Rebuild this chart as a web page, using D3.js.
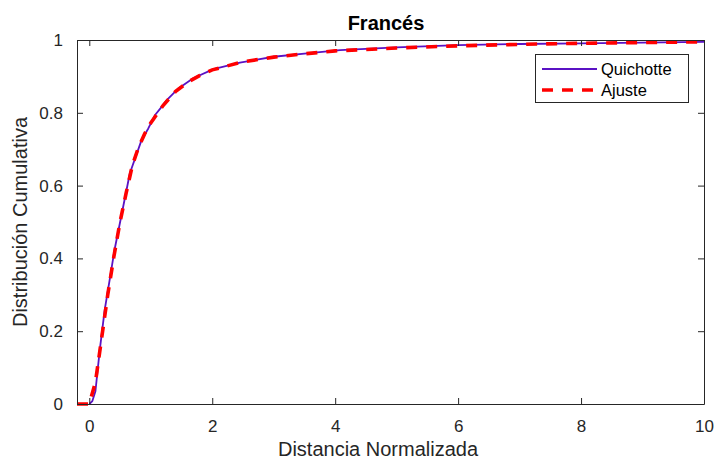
<!DOCTYPE html>
<html>
<head>
<meta charset="utf-8">
<script src="https://cdn.jsdelivr.net/npm/d3@7"></script>
<style>
  html, body { margin: 0; padding: 0; background: #fff; }
  svg { display: block; font-family: "Liberation Sans", Arial, Helvetica, sans-serif; }
</style>
</head>
<body>
<svg id="chart" width="715" height="459"></svg>
<script>
// Empirical cumulative distribution (Quichotte)
const obsX = [0, 0.05, 0.1, 0.17, 0.25, 0.34, 0.41, 0.53, 0.66, 0.85, 0.96, 1.07, 1.18, 1.26, 1.45, 1.69, 2.02, 2.45, 3.0, 3.54, 4.08, 5.0, 6.0, 7.0, 8.0, 9.0, 10.0];
const obsY = [0, 0.008, 0.035, 0.148, 0.258, 0.35, 0.423, 0.524, 0.634, 0.725, 0.757, 0.794, 0.817, 0.835, 0.867, 0.895, 0.92, 0.938, 0.954, 0.963, 0.972, 0.98, 0.986, 0.989, 0.991, 0.993, 0.995];

// Fitted curve (Ajuste)
const fitX = [-0.2, 0, 0.1, 0.2, 0.3, 0.4, 0.5, 0.6, 0.7, 0.8, 0.9, 1.0, 1.2, 1.4, 1.6, 1.8, 2.0, 2.5, 3.0, 3.5, 4.0, 5.0, 6.0, 7.0, 8.0, 9.0, 10.0];
const fitY = [0, 0, 0.06, 0.18, 0.3, 0.405, 0.5, 0.58, 0.655, 0.705, 0.742, 0.772, 0.82, 0.858, 0.884, 0.903, 0.918, 0.94, 0.953, 0.962, 0.97, 0.978, 0.984, 0.988, 0.991, 0.993, 0.995];

const xTicks = [0, 2, 4, 6, 8, 10];
const yTicks = [0, 0.2, 0.4, 0.6, 0.8, 1];
const seriesNames = ["Quichotte", "Ajuste"];
const titleText = "Francés";
const xLabelText = "Distancia Normalizada";
const yLabelText = "Distribución Cumulativa";

const svg = d3.select("#chart");
const L = 77, R = 704, T = 40, B = 404;
const axisColor = "#262626";

const x = d3.scaleLinear().domain([-0.2, 10]).range([L, R]);
const y = d3.scaleLinear().domain([0, 1]).range([B, T]);

svg.append("defs").append("clipPath").attr("id", "plotClip")
  .append("rect").attr("x", L).attr("y", T - 3).attr("width", R - L + 2).attr("height", B - T + 6);

// Curves
const lineGen = d3.line().x(d => x(d[0])).y(d => y(d[1]));
const plot = svg.append("g").attr("clip-path", "url(#plotClip)");

plot.append("path")
  .datum(obsX.map((v, i) => [v, obsY[i]]))
  .attr("fill", "none").attr("stroke", "#5a12c4").attr("stroke-width", 1.8)
  .attr("stroke-linejoin", "round")
  .attr("d", lineGen);

plot.append("path")
  .datum(fitX.map((v, i) => [v, fitY[i]]))
  .attr("fill", "none").attr("stroke", "#ff0000").attr("stroke-width", 3.6)
  .attr("stroke-dasharray", "11,9")
  .attr("d", lineGen);

// Axes (box with inward ticks on all sides)
const axes = svg.append("g");
const tickLen = 6;
const tickSize = 17;

const xAxisB = d3.axisBottom(x).tickValues(xTicks).tickFormat(d3.format("d")).tickSizeInner(-tickLen).tickSizeOuter(0).tickPadding(tickLen + 10);
const xAxisT = d3.axisTop(x).tickValues(xTicks).tickFormat("").tickSizeInner(-tickLen).tickSizeOuter(0);
const yAxisL = d3.axisLeft(y).tickValues(yTicks).tickFormat(d => d3.format("~g")(d)).tickSizeInner(-tickLen).tickSizeOuter(0).tickPadding(tickLen + 8);
const yAxisR = d3.axisRight(y).tickValues(yTicks).tickFormat("").tickSizeInner(-tickLen).tickSizeOuter(0);

function styleAxis(g) {
  g.select(".domain").attr("stroke", axisColor);
  g.selectAll(".tick line").attr("stroke", axisColor);
  g.selectAll(".tick text").attr("fill", axisColor).style("font-size", tickSize + "px")
    .style("font-family", '"Liberation Sans", Arial, sans-serif');
}

axes.append("g").attr("transform", `translate(0,${B})`).call(xAxisB).call(styleAxis);
axes.append("g").attr("transform", `translate(0,${T})`).call(xAxisT).call(styleAxis);
axes.append("g").attr("transform", `translate(${L},0)`).call(yAxisL).call(styleAxis);
axes.append("g").attr("transform", `translate(${R},0)`).call(yAxisR).call(styleAxis);

// Title and axis labels
svg.append("text").attr("x", 386).attr("y", 30).attr("text-anchor", "middle")
  .style("font-size", "20px").style("font-weight", "bold").attr("fill", "#000").text(titleText);

svg.append("text").attr("x", 378).attr("y", 456).attr("text-anchor", "middle")
  .style("font-size", "20px").attr("fill", axisColor).text(xLabelText);

svg.append("text").attr("transform", `translate(27,${(T + B) / 2}) rotate(-90)`).attr("text-anchor", "middle")
  .style("font-size", "20px").attr("fill", axisColor).text(yLabelText);

// Legend
const lg = svg.append("g");
const lgX = 535, lgY = 54, lgW = 153, lgH = 48;
lg.append("rect").attr("x", lgX + 0.5).attr("y", lgY + 0.5).attr("width", lgW).attr("height", lgH)
  .attr("fill", "#fff").attr("stroke", axisColor).attr("stroke-width", 1);
const legendStyles = [
  { color: "#5a12c4", width: 1.8, dash: null },
  { color: "#ff0000", width: 3.6, dash: "11,9" }
];
seriesNames.forEach((name, i) => {
  const cy = lgY + 15 + i * 21;
  const ln = lg.append("line").attr("x1", lgX + 7).attr("x2", lgX + 62).attr("y1", cy).attr("y2", cy)
    .attr("stroke", legendStyles[i].color).attr("stroke-width", legendStyles[i].width);
  if (legendStyles[i].dash) ln.attr("stroke-dasharray", legendStyles[i].dash);
  lg.append("text").attr("x", lgX + 66).attr("y", cy + 6).style("font-size", "16.5px")
    .attr("fill", "#000").text(name);
});
</script>
</body>
</html>
